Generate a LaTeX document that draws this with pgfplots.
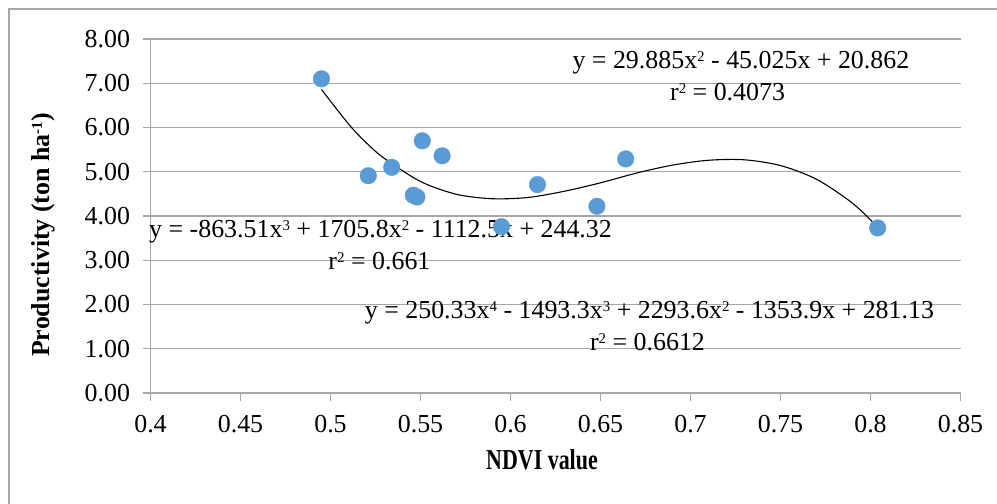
\documentclass[border=0pt]{standalone}
\usepackage{pgfplots}
\pgfplotsset{compat=1.18}
\usepackage{fontspec}
\setmainfont{Liberation Serif}

\definecolor{gridgray}{RGB}{166,166,166}
\definecolor{ptblue}{RGB}{91,155,213}
\newcommand\fs{\fontsize{26}{30}\selectfont}
\newcommand\sq[1]{\raisebox{0.62ex}{\fontsize{15}{15}\selectfont #1}}

\begin{document}
\begin{tikzpicture}
\useasboundingbox (0,0) rectangle (997bp,-504bp);
% outer chart frame
\draw[gridgray, line width=1.2bp] (9bp,-504bp) -- (9bp,-9bp) -- (997bp,-9bp);

\begin{axis}[
  at={(150.5bp,-393bp)}, anchor=south west,
  scale only axis,
  width=810bp, height=354bp,
  xmin=0.4, xmax=0.85, ymin=0, ymax=8,
  xtick={0.4,0.45,0.5,0.55,0.6,0.65,0.7,0.75,0.8,0.85},
  xticklabels={0.4,0.45,0.5,0.55,0.6,0.65,0.7,0.75,0.8,0.85},
  ytick={0,1,2,3,4,5,6,7,8},
  yticklabels={0.00,1.00,2.00,3.00,4.00,5.00,6.00,7.00,8.00},
  axis x line*=bottom, axis y line*=left,
  axis line style={-, draw=gridgray, line width=1.2bp},
  ymajorgrids,
  grid style={gridgray, line width=1.2bp},
  tick align=outside,
  major tick length=8bp,
  tick style={gridgray, line width=1.2bp},
  ticklabel style={font=\fs},
  xticklabel style={yshift=-11bp},
  yticklabel style={xshift=-9bp},
  /pgf/number format/assume math mode=true,
  clip=false,
]
% observations
\addplot[only marks, mark=*, mark size=8.3bp,
  mark options={fill=ptblue, draw=ptblue}] coordinates {
  (0.495,7.10) (0.521,4.91) (0.534,5.10) (0.551,5.70) (0.562,5.36)
  (0.546,4.47) (0.548,4.43) (0.595,3.76) (0.615,4.71) (0.648,4.22)
  (0.664,5.29) (0.804,3.73)
};
% fitted trend
\addplot[black, line width=1.1bp, smooth] coordinates {
  (0.495,6.86) (0.51,6.08) (0.52,5.65) (0.53,5.30) (0.55,4.78)
  (0.57,4.49) (0.59,4.39) (0.61,4.42) (0.63,4.56) (0.65,4.75)
  (0.67,4.97) (0.69,5.15) (0.71,5.26) (0.73,5.27) (0.75,5.14)
  (0.77,4.83) (0.79,4.29) (0.804,3.75)
};

\node[font=\fs] at (axis cs:0.728,7.46) {y = 29.885x\sq{2} - 45.025x + 20.862};
\node[font=\fs] at (axis cs:0.7206,6.80) {r\sq{2} = 0.4073};
\node[font=\fs] at (axis cs:0.5278,3.64) {y = -863.51x\sq{3} + 1705.8x\sq{2} - 1112.5x + 244.32};
\node[font=\fs] at (axis cs:0.5272,2.98) {r\sq{2} = 0.661};
\node[font=\fs] at (axis cs:0.6772,1.81) {y = 250.33x\sq{4} - 1493.3x\sq{3} + 2293.6x\sq{2} - 1353.9x + 281.13};
\node[font=\fs] at (axis cs:0.6761,1.15) {r\sq{2} = 0.6612};
\end{axis}

\node[font=\fs\bfseries, rotate=90] at (43bp,-235bp) {Productivity (ton ha\sq{-1})};
\node[font=\bfseries\fontsize{29}{32}\selectfont] at (542bp,-460bp) {\scalebox{0.76}[1]{NDVI value}};
\end{tikzpicture}
\end{document}
